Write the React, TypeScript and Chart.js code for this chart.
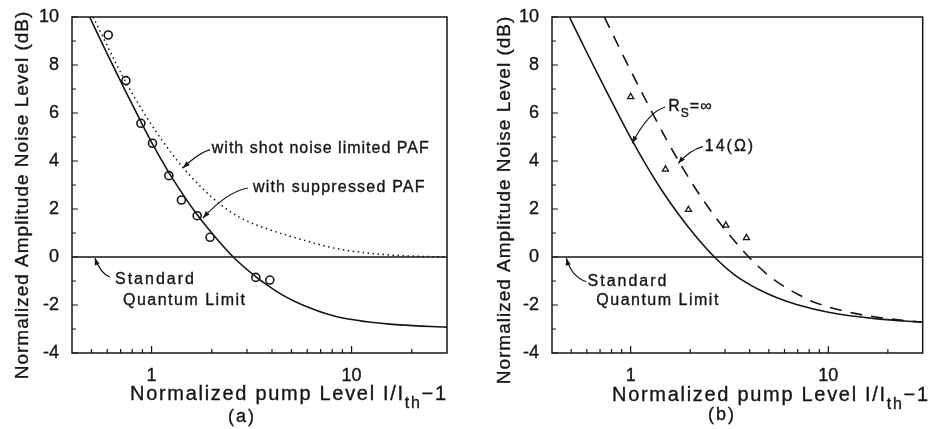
import React, { useEffect, useRef } from 'react';
import { Chart, registerables } from 'chart.js';
Chart.register(...registerables);

const FONT = '"Liberation Sans", Arial, Helvetica, sans-serif';
const INK = '#161616';

// ---------- Panel (a) data ----------
const aSolidX = [0.49, 0.6, 0.735, 0.874, 1.01, 1.21, 1.44, 1.68, 2.0, 2.56, 3.35, 3.76, 4.55, 5.51, 8.09, 11.9, 17.4, 30];
const aSolidY = [10, 8.46, 6.96, 5.72, 4.71, 3.57, 2.59, 1.79, 1.0, 0, -0.85, -1.15, -1.6, -1.95, -2.45, -2.7, -2.83, -2.92];
const aDotX = [0.51, 0.72, 0.94, 1.2, 1.435, 1.75, 2.2, 2.8, 3.76, 5.51, 8.09, 11.9, 17.4, 30];
const aDotY = [10, 7.5, 5.85, 4.55, 3.73, 2.95, 2.2, 1.62, 1.18, 0.75, 0.38, 0.17, 0.06, 0.0];
const aCircX = [0.607, 0.744, 0.884, 1.01, 1.22, 1.41, 1.69, 1.96, 3.32, 3.9];
const aCircY = [9.25, 7.35, 5.57, 4.74, 3.39, 2.375, 1.72, 0.82, -0.85, -0.96];

// ---------- Panel (b) data ----------
const bSolidX = [0.49, 0.6, 0.75, 0.87, 1.02, 1.2, 1.45, 1.75, 2.15, 2.65, 3.3, 4.0, 4.69, 5.5, 6.9, 10, 17.7, 30];
const bSolidY = [10, 8.52, 6.94, 5.91, 4.84, 3.82, 2.73, 1.77, 0.83, 0, -0.7, -1.15, -1.45, -1.7, -1.98, -2.3, -2.58, -2.72];
const bDashX = [0.736, 0.9, 1.125, 1.305, 1.53, 1.8, 2.175, 2.625, 3.225, 3.96, 4.9, 5.9, 7.0, 8.3, 10, 13.6, 18, 23.2, 30];
const bDashY = [10, 8.52, 6.94, 5.91, 4.84, 3.82, 2.73, 1.77, 0.83, 0, -0.72, -1.2, -1.55, -1.85, -2.08, -2.35, -2.52, -2.63, -2.72];
const bTriX = [1.0, 1.5, 1.96, 3.03, 3.85];
const bTriY = [6.67, 3.65, 1.97, 1.32, 0.8];

// Standard quantum limit line (both panels)
const sqlX = [0.4, 30];
const sqlY = [0, 0];

// ---------- Axes ----------
const xMin = 0.4;
const xMax = 30;
const yMin = -4;
const yMax = 10;
const yLabelTicks = [-4, -2, 0, 2, 4, 6, 8, 10];
const yMinorTicks = [-3, -1, 1, 3, 5, 7, 9];
const xLabelTicks = [1, 10];
const xMinorTicks = [0.5, 0.6, 0.7, 0.8, 0.9, 2, 3, 4, 5, 6, 7, 8, 9, 20];

const yTitle = 'Normalized Amplitude Noise Level (dB)';

type Seg = { t: string; sub?: boolean };

const pts = (xs: number[], ys: number[]) => xs.map((x, i) => ({ x, y: ys[i] }));

interface PanelCfg {
  datasets: any[];
  yAxisWidth: number;
  padRight: number;
  notes: { segs: Seg[]; x: number; y: number; spacing: number }[];
  arrows: { from: number[]; via: number[]; to: number[] }[];
  xTitleLeft: number;
  xTitleBase: number;
  tag: string;
  tagX: number;
  tagBase: number;
  yTitleX: number;
  yTitleY: number;
}

function drawSegs(ctx: CanvasRenderingContext2D, segs: Seg[], x: number, y: number, size: number, spacing: number) {
  let cx = x;
  for (const s of segs) {
    const fs = s.sub ? Math.round(size * 0.78) : size;
    ctx.font = `${fs}px ${FONT}`;
    (ctx as any).letterSpacing = `${spacing}px`;
    const yy = s.sub ? y + size * 0.42 : y;
    ctx.fillText(s.t, cx, yy);
    ctx.strokeText(s.t, cx, yy);
    cx += ctx.measureText(s.t).width;
  }
}

function makePlugin(cfg: PanelCfg) {
  return {
    id: 'decor',
    afterDraw(chart: any) {
      const ctx: CanvasRenderingContext2D = chart.ctx;
      const xs = chart.scales.x;
      const ys = chart.scales.y;
      const ca = chart.chartArea;
      ctx.save();
      ctx.strokeStyle = INK;
      ctx.fillStyle = INK;
      // frame
      ctx.lineWidth = 1.5;
      ctx.strokeRect(ca.left, ca.top, ca.right - ca.left, ca.bottom - ca.top);
      // inward ticks
      ctx.lineWidth = 1.2;
      ctx.beginPath();
      for (const v of yLabelTicks) {
        const py = ys.getPixelForValue(v);
        ctx.moveTo(ca.left, py);
        ctx.lineTo(ca.left + 6, py);
      }
      for (const v of yMinorTicks) {
        const py = ys.getPixelForValue(v);
        ctx.moveTo(ca.left, py);
        ctx.lineTo(ca.left + 4, py);
      }
      for (const v of xLabelTicks) {
        const px = xs.getPixelForValue(v);
        ctx.moveTo(px, ca.bottom);
        ctx.lineTo(px, ca.bottom - 7);
      }
      for (const v of xMinorTicks) {
        const px = xs.getPixelForValue(v);
        ctx.moveTo(px, ca.bottom);
        ctx.lineTo(px, ca.bottom - 4);
      }
      ctx.stroke();

      // arrows
      ctx.lineWidth = 1.2;
      for (const a of cfg.arrows) {
        const x0 = xs.getPixelForValue(a.from[0]);
        const y0 = ys.getPixelForValue(a.from[1]);
        const x1 = xs.getPixelForValue(a.via[0]);
        const y1 = ys.getPixelForValue(a.via[1]);
        const x2 = xs.getPixelForValue(a.to[0]);
        const y2 = ys.getPixelForValue(a.to[1]);
        ctx.beginPath();
        ctx.moveTo(x0, y0);
        ctx.quadraticCurveTo(x1, y1, x2, y2);
        ctx.stroke();
        const ang = Math.atan2(y2 - y1, x2 - x1);
        const L = 7;
        const W = 2.6;
        ctx.beginPath();
        ctx.moveTo(x2, y2);
        ctx.lineTo(x2 - L * Math.cos(ang) + W * Math.sin(ang), y2 - L * Math.sin(ang) - W * Math.cos(ang));
        ctx.lineTo(x2 - L * Math.cos(ang) - W * Math.sin(ang), y2 - L * Math.sin(ang) + W * Math.cos(ang));
        ctx.closePath();
        ctx.fill();
      }

      // notes
      ctx.lineWidth = 0.35;
      ctx.textAlign = 'left';
      ctx.textBaseline = 'middle';
      for (const n of cfg.notes) {
        drawSegs(ctx, n.segs, xs.getPixelForValue(n.x), ys.getPixelForValue(n.y), 16, n.spacing);
      }

      // x title
      ctx.textBaseline = 'alphabetic';
      drawSegs(
        ctx,
        [{ t: 'Normalized pump Level I/I' }, { t: 'th', sub: true }, { t: '\u22121' }],
        cfg.xTitleLeft,
        cfg.xTitleBase,
        20,
        1.7
      );
      // tag
      ctx.font = `18px ${FONT}`;
      (ctx as any).letterSpacing = '2px';
      ctx.textAlign = 'center';
      ctx.fillText(cfg.tag, cfg.tagX, cfg.tagBase);
      ctx.strokeText(cfg.tag, cfg.tagX, cfg.tagBase);

      // y title
      ctx.save();
      ctx.translate(cfg.yTitleX, cfg.yTitleY);
      ctx.rotate(-Math.PI / 2);
      ctx.font = `19px ${FONT}`;
      (ctx as any).letterSpacing = '1px';
      ctx.textAlign = 'center';
      ctx.textBaseline = 'middle';
      ctx.fillText(yTitle, 0, 0);
      ctx.strokeText(yTitle, 0, 0);
      ctx.restore();

      ctx.restore();
    },
  };
}

function Panel({ cfg }: { cfg: PanelCfg }) {
  const ref = useRef<HTMLCanvasElement | null>(null);
  useEffect(() => {
    if (!ref.current) return;
    const chart = new Chart(ref.current, {
      type: 'scatter',
      data: { datasets: cfg.datasets },
      options: {
        responsive: false,
        devicePixelRatio: 1,
        animation: false,
        events: [],
        layout: { padding: { top: 17, right: cfg.padRight, left: 0, bottom: 0 } },
        plugins: { legend: { display: false }, tooltip: { enabled: false } },
        scales: {
          x: {
            type: 'logarithmic',
            min: xMin,
            max: xMax,
            grid: { display: false },
            border: { display: false },
            afterBuildTicks: (s: any) => {
              s.ticks = xLabelTicks.map((v) => ({ value: v }));
            },
            afterFit: (s: any) => {
              s.height = 76;
            },
            ticks: {
              autoSkip: false,
              maxRotation: 0,
              padding: 4,
              color: INK,
              textStrokeColor: INK,
              textStrokeWidth: 0.35,
              font: { family: FONT, size: 18 },
              callback: (v: any) => String(v),
            },
          },
          y: {
            type: 'linear',
            min: yMin,
            max: yMax,
            grid: { display: false },
            border: { display: false },
            afterBuildTicks: (s: any) => {
              s.ticks = yLabelTicks.map((v) => ({ value: v }));
            },
            afterFit: (s: any) => {
              s.width = cfg.yAxisWidth;
            },
            ticks: {
              padding: 5,
              color: INK,
              textStrokeColor: INK,
              textStrokeWidth: 0.35,
              font: { family: FONT, size: 18 },
              callback: (v: any) => String(v),
            },
          },
        },
      },
      plugins: [makePlugin(cfg)],
    } as any);
    return () => chart.destroy();
  }, [cfg]);
  return <canvas ref={ref} width={464} height={429} style={{ display: 'block', width: 464, height: 429 }} />;
}

const lineDs = (xs: number[], ys: number[], extra: any = {}) => ({
  data: pts(xs, ys),
  showLine: true,
  pointRadius: 0,
  borderColor: INK,
  borderWidth: 1.6,
  cubicInterpolationMode: 'monotone',
  fill: false,
  ...extra,
});

const panelA: PanelCfg = {
  datasets: [
    lineDs(sqlX, sqlY, { cubicInterpolationMode: 'default', tension: 0 }),
    lineDs(aSolidX, aSolidY),
    lineDs(aDotX, aDotY, { borderDash: [1.5, 3.5], borderWidth: 1.5 }),
    {
      data: pts(aCircX, aCircY),
      showLine: false,
      pointStyle: 'circle',
      pointRadius: 4,
      pointBorderWidth: 1.6,
      pointBorderColor: INK,
      pointBackgroundColor: 'rgba(255,255,255,0)',
    },
  ],
  yAxisWidth: 72,
  padRight: 17,
  notes: [
    { segs: [{ t: 'with shot noise limited PAF' }], x: 2.0, y: 4.5, spacing: 1 },
    { segs: [{ t: 'with suppressed PAF' }], x: 3.21, y: 2.875, spacing: 1.2 },
    { segs: [{ t: 'Standard' }], x: 0.656, y: -0.96, spacing: 2 },
    { segs: [{ t: 'Quantum Limit' }], x: 0.719, y: -1.83, spacing: 1.5 },
  ],
  arrows: [
    { from: [1.96, 4.46], via: [1.746, 4.375], to: [1.435, 3.71] },
    { from: [3.03, 2.875], via: [2.38, 2.71], to: [1.807, 1.625] },
    { from: [0.619, -0.833], via: [0.552, -0.667], to: [0.521, -0.04] },
  ],
  xTitleLeft: 130,
  xTitleBase: 400,
  tag: '(a)',
  tagX: 242,
  tagBase: 422,
  yTitleX: 23,
  yTitleY: 195,
};

const panelB: PanelCfg = {
  datasets: [
    lineDs(sqlX, sqlY, { cubicInterpolationMode: 'default', tension: 0 }),
    lineDs(bSolidX, bSolidY),
    lineDs(bDashX, bDashY, { borderDash: [12, 9] }),
    {
      data: pts(bTriX, bTriY),
      showLine: false,
      pointStyle: 'triangle',
      pointRadius: 3.5,
      pointBorderWidth: 1.3,
      pointBorderColor: INK,
      pointBackgroundColor: 'rgba(255,255,255,0)',
    },
  ],
  yAxisWidth: 88,
  padRight: 1,
  notes: [
    { segs: [{ t: 'R' }, { t: 'S', sub: true }, { t: '=\u221E' }], x: 1.55, y: 6.25, spacing: 1 },
    { segs: [{ t: '14(\u03A9)' }], x: 2.37, y: 4.58, spacing: 2 },
    { segs: [{ t: 'Standard' }], x: 0.605, y: -1.04, spacing: 2 },
    { segs: [{ t: 'Quantum Limit' }], x: 0.67, y: -1.83, spacing: 1.5 },
  ],
  arrows: [
    { from: [1.493, 6.25], via: [1.233, 6.05], to: [1.017, 4.74] },
    { from: [2.32, 4.6], via: [1.99, 4.46], to: [1.74, 3.9] },
    { from: [0.596, -1.03], via: [0.501, -0.82], to: [0.473, -0.05] },
  ],
  xTitleLeft: 148,
  xTitleBase: 401,
  tag: '(b)',
  tagX: 258,
  tagBase: 420,
  yTitleX: 41,
  yTitleY: 200,
};

export default function App() {
  return (
    <div style={{ position: 'fixed', left: 0, top: 0, width: 928, height: 429, display: 'flex', background: '#fff' }}>
      <Panel cfg={panelA} />
      <Panel cfg={panelB} />
    </div>
  );
}
